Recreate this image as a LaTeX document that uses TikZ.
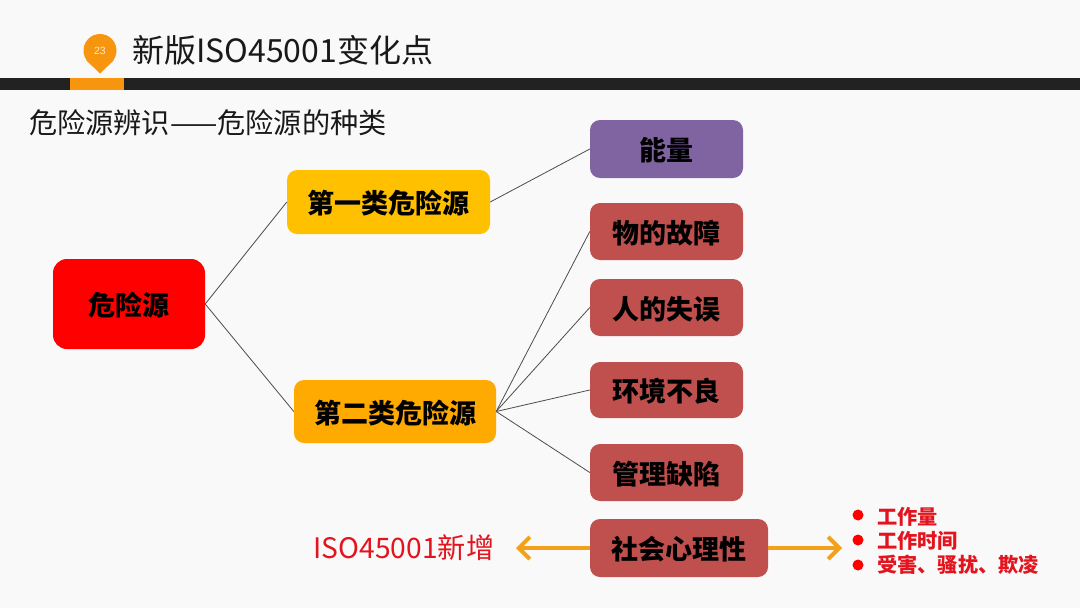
\documentclass[tikz,border=0pt]{standalone}
\usepackage{fontspec}
\setmainfont{Noto Sans CJK SC}
\newfontfamily\pinfont{Liberation Sans}
\usepackage{color}
\usetikzlibrary{arrows.meta,positioning}
\definecolor{pagebg}{HTML}{F9F9F9}
\definecolor{barblack}{HTML}{222222}
\definecolor{pinorange}{HTML}{F7960E}
\definecolor{arroworange}{HTML}{F3A01A}
\definecolor{boxred}{HTML}{FF0000}
\definecolor{boxyellow}{HTML}{FFC000}
\definecolor{boxamber}{HTML}{FFAA00}
\definecolor{boxpurple}{HTML}{8064A2}
\definecolor{boxbrick}{HTML}{C0504D}
\definecolor{textred}{HTML}{E3141E}
\begin{document}
\begin{tikzpicture}[x=1pt,y=-1pt]
            \tikzstyle{every node}+=[inner sep=0pt]
            \tikzstyle{hazardbox}=[rounded corners=10pt,font=\fontsize{27}{30}\selectfont\bfseries,text=black,text height=26pt,text depth=3pt,minimum height=58pt,minimum width=153pt]
            \tikzstyle{link}=[draw=black!70,line width=0.8pt]
            \tikzstyle{wide}=[arroworange,line width=4pt,-{Straight Barb[length=11pt,width=22pt,line width=4pt]}]
            \tikzstyle{dot}=[circle,fill=red,minimum size=11pt]
            \tikzstyle{item}=[anchor=west,text=textred,font=\fontsize{20.2}{24}\selectfont\bfseries]
            \fill [pagebg] (0,0) rectangle (1080,608);
            \fill [barblack] (0,78) rectangle (1080,90);
            \fill [pinorange] (70,78) rectangle (124,90);
            \fill [pinorange] (86,60) -- (100,73.5) -- (114,60) -- cycle;
            \node [circle,fill=pinorange,minimum size=33pt,text=white!80!pinorange,font=\fontsize{10.5}{12}\selectfont\pinfont] (pin) at (100,50.5) {23};
            \node [anchor=west,font=\fontsize{32}{38}\selectfont,text=black!90] (title) at (132,50) {新版ISO45001变化点};
            \node [anchor=west,font=\fontsize{28.2}{34}\selectfont,text=black!90] (subtitle) at (29,123) {危险源辨识——危险源的种类};
            \node [hazardbox,rounded corners=14pt,fill=boxred,minimum width=152pt,minimum height=90pt] (source) at (129,304) {危险源};
            \node [hazardbox,fill=boxyellow,minimum width=203pt,minimum height=64pt] (first) at (388.5,202) {第一类危险源};
            \node [hazardbox,fill=boxamber,minimum width=202pt,minimum height=63pt] (second) at (395,411.5) {第二类危险源};
            \node [hazardbox,fill=boxpurple] (energy) at (666.5,149) {能量};
            \node [hazardbox,fill=boxbrick,minimum height=57pt] (fault) at (666.5,231.5) {物的故障};
            \node [hazardbox,fill=boxbrick,minimum height=57pt] (error) at (666.5,307.5) {人的失误};
            \node [hazardbox,fill=boxbrick,minimum height=56pt] (environ) at (666.5,390) {环境不良};
            \node [hazardbox,fill=boxbrick,minimum height=57pt] (manage) at (666.5,472.5) {管理缺陷};
            \node [hazardbox,fill=boxbrick,minimum width=178pt] (social) at (679,548) {社会心理性};
            \node [anchor=east,text=textred,font=\fontsize{28.2}{34}\selectfont] (added) at (494.5,548) {ISO45001新增};
            \coordinate (leftend) at (516,548);
            \coordinate (rightend) at (842,548);
            \node [dot] (dot1) at (858,515) {};
            \node [dot] (dot2) at (858,540) {};
            \node [dot] (dot3) at (858,565) {};
            \node [item] (item1) at (877,517) {工作量};
            \node [item] (item2) at (877,541) {工作时间};
            \node [item] (item3) at (877,565) {受害、骚扰、欺凌};
            \draw [link] (source.east) -- (first.west);
            \draw [link] (source.east) -- (second.west);
            \draw [link] (first.east) -- (energy.west);
            \draw [link] (second.east) -- (fault.west);
            \draw [link] (second.east) -- (error.west);
            \draw [link] (second.east) -- (environ.west);
            \draw [link] (second.east) -- (manage.west);
            \draw [wide] (social.west) -- (leftend);
            \draw [wide] (social.east) -- (rightend);
\end{tikzpicture}
\end{document}
